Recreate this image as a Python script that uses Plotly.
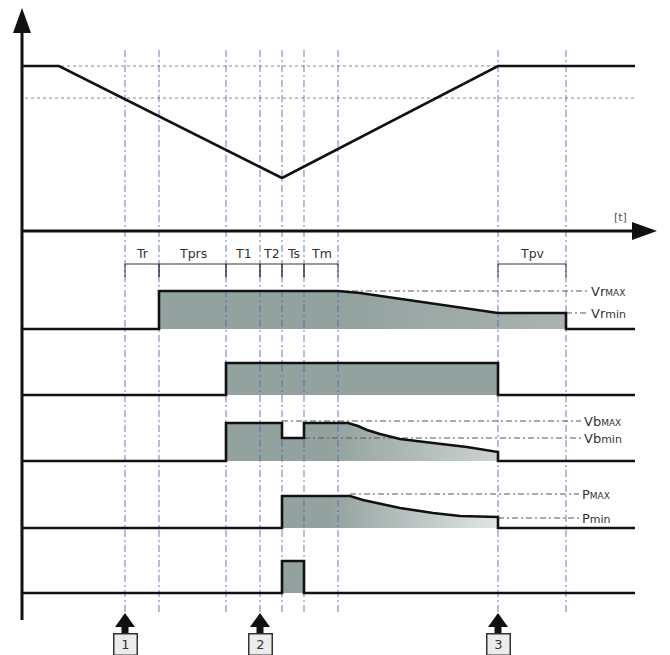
import plotly.graph_objects as go

# diagram units: x = time position, y = level (top of picture = 0)
T_MARKS = [125, 159, 226, 260, 282, 304, 338, 498, 566]
T_START, T_END = 22, 635

INTERVALS = [
    ("Tr", 125, 159),
    ("Tprs", 159, 226),
    ("T1", 226, 260),
    ("T2", 260, 282),
    ("Ts", 282, 304),
    ("Tm", 304, 338),
    ("Tpv", 498, 566),
]

SPEED_T = [22, 59, 282, 498, 635]
SPEED_V = [66, 66, 178, 66, 66]
SPEED_REFS = [66, 98]

VR_T = [22, 159, 159, 338, 360, 400, 450, 498, 566, 566, 635]
VR_V = [329, 329, 291, 291, 293, 299, 306, 313, 313, 329, 329]

S2_T = [22, 226, 226, 498, 498, 635]
S2_V = [395, 395, 363, 363, 395, 395]

VB_T = [22, 226, 226, 282, 282, 304, 304, 348, 358, 367, 380, 400, 433, 467, 498, 498, 635]
VB_V = [461, 461, 423, 423, 438, 438, 423, 423, 426, 430, 434, 439, 443, 447, 452, 461, 461]

P_T = [22, 282, 282, 350, 363, 380, 400, 433, 460, 498, 498, 635]
P_V = [528, 528, 496, 496, 500, 504, 508, 513, 516, 517, 528, 528]

PULSE_T = [22, 282, 282, 304, 304, 635]
PULSE_V = [593, 593, 561, 561, 593, 593]

# reference levels: (label html, level, line from, line to)
REF_LEVELS = [
    ("Vr<span style='font-size:9px'>MAX</span>", 291, 338, 588),
    ("Vr<span style='font-size:11px'>min</span>", 313, 566, 588),
    ("Vb<span style='font-size:9px'>MAX</span>", 421, 282, 581),
    ("Vb<span style='font-size:11px'>min</span>", 438, 304, 581),
    ("P<span style='font-size:9px'>MAX</span>", 494, 350, 579),
    ("P<span style='font-size:11px'>min</span>", 518, 498, 579),
]

EVENT_MARKS = [("1", 125), ("2", 260), ("3", 498)]

FILL = "#93a29f"
INK = "#111111"
FONT = "DejaVu Sans"
PAGE_OFFSET = 8  # browser body margin

fig = go.Figure()

# filled humps
fills = [
    (VR_T, VR_V, "#aab3b1", 340, 566),
    (S2_T, S2_V, FILL, 226, 498),
    (VB_T, VB_V, "#cdd3d1", 330, 498),
    (P_T, P_V, "#e2e6e5", 330, 498),
    (PULSE_T, PULSE_V, FILL, 282, 304),
]
for t, v, light, g0, g1 in fills:
    fig.add_trace(
        go.Scatter(
            x=t, y=v, mode="lines", fill="toself",
            line=dict(width=0),
            fillgradient=dict(
                type="horizontal",
                colorscale=[[0, FILL], [1, light]],
                start=g0, stop=g1,
            ),
            hoverinfo="skip",
        )
    )

# dotted speed references
for lvl in SPEED_REFS:
    fig.add_trace(
        go.Scatter(
            x=[25, T_END], y=[lvl, lvl], mode="lines",
            line=dict(color="#8a8a8a", width=1.2, dash="dot"),
            hoverinfo="skip",
        )
    )

# event dash-dot verticals
vx, vy = [], []
for t in T_MARKS:
    vx += [t, t, None]
    vy += [50, 613, None]
fig.add_trace(
    go.Scatter(
        x=vx, y=vy, mode="lines",
        line=dict(color="rgba(85,100,180,0.72)", width=1.2, dash="7px,3px,2px,3px"),
        hoverinfo="skip",
    )
)

# reference level lines
rx, ry = [], []
for _, lvl, a, b in REF_LEVELS:
    rx += [a, b, None]
    ry += [lvl, lvl, None]
fig.add_trace(
    go.Scatter(
        x=rx, y=ry, mode="lines",
        line=dict(color="#555555", width=1, dash="6px,3px,2px,3px"),
        hoverinfo="skip",
    )
)

# interval brackets
bx, by = [], []
for _, a, b in INTERVALS:
    bx += [a, b, None, a, a, None, b, b, None]
    by += [264, 264, None, 264, 277, None, 264, 277, None]
fig.add_trace(
    go.Scatter(
        x=bx, y=by, mode="lines",
        line=dict(color="#333333", width=1),
        hoverinfo="skip",
    )
)

# signal outlines
for t, v in [(SPEED_T, SPEED_V), (VR_T, VR_V), (S2_T, S2_V), (VB_T, VB_V), (P_T, P_V), (PULSE_T, PULSE_V)]:
    fig.add_trace(
        go.Scatter(
            x=t, y=v, mode="lines",
            line=dict(color=INK, width=2.6),
            hoverinfo="skip",
        )
    )

# axes
fig.add_trace(go.Scatter(x=[22, 22], y=[30, 620], mode="lines", line=dict(color=INK, width=3), hoverinfo="skip"))
fig.add_trace(go.Scatter(x=[22, 640], y=[231, 231], mode="lines", line=dict(color=INK, width=3), hoverinfo="skip"))


def up_arrow(x, tip, w, h, shaft_w=0, shaft_h=0):
    p = f"M {x},{tip} L {x - w / 2},{tip + h} L {x - shaft_w / 2},{tip + h} "
    p += f"L {x - shaft_w / 2},{tip + h + shaft_h} L {x + shaft_w / 2},{tip + h + shaft_h} "
    p += f"L {x + shaft_w / 2},{tip + h} L {x + w / 2},{tip + h} Z"
    return dict(type="path", path=p, fillcolor=INK, line=dict(width=0), xref="x", yref="y")


shapes = [up_arrow(22, 8, 18, 25)]
shapes.append(dict(type="path", path="M 657,231 L 632,222 L 632,240 Z",
                   fillcolor=INK, line=dict(width=0), xref="x", yref="y"))
for _, t in EVENT_MARKS:
    shapes.append(up_arrow(t, 613, 20, 14, 7, 7))

annotations = []
for name, a, b in INTERVALS:
    annotations.append(dict(x=(a + b) / 2, y=253, text=name, showarrow=False,
                            font=dict(family=FONT, size=12.5, color="#333333")))
for label, lvl, _, b in REF_LEVELS:
    annotations.append(dict(x=b + 1, y=lvl, text=label, showarrow=False, xanchor="left",
                            font=dict(family=FONT, size=13, color="#333333")))
annotations.append(dict(x=620, y=217, text="[t]", showarrow=False,
                        font=dict(family=FONT, size=11, color="#555555")))
for label, t in EVENT_MARKS:
    annotations.append(dict(x=t, y=644, text=label, showarrow=False,
                            width=20, height=18, bordercolor="#333333", borderwidth=1.5,
                            bgcolor="#ececec",
                            font=dict(family=FONT, size=13, color="#333333")))

fig.update_layout(
    width=670, height=655,
    margin=dict(l=0, r=0, t=0, b=0),
    paper_bgcolor="white", plot_bgcolor="white",
    showlegend=False,
    shapes=shapes,
    annotations=annotations,
    xaxis=dict(range=[PAGE_OFFSET, 670 + PAGE_OFFSET], visible=False, fixedrange=True),
    yaxis=dict(range=[655 + PAGE_OFFSET, PAGE_OFFSET], visible=False, fixedrange=True),
)

fig.write_html("out.html")
